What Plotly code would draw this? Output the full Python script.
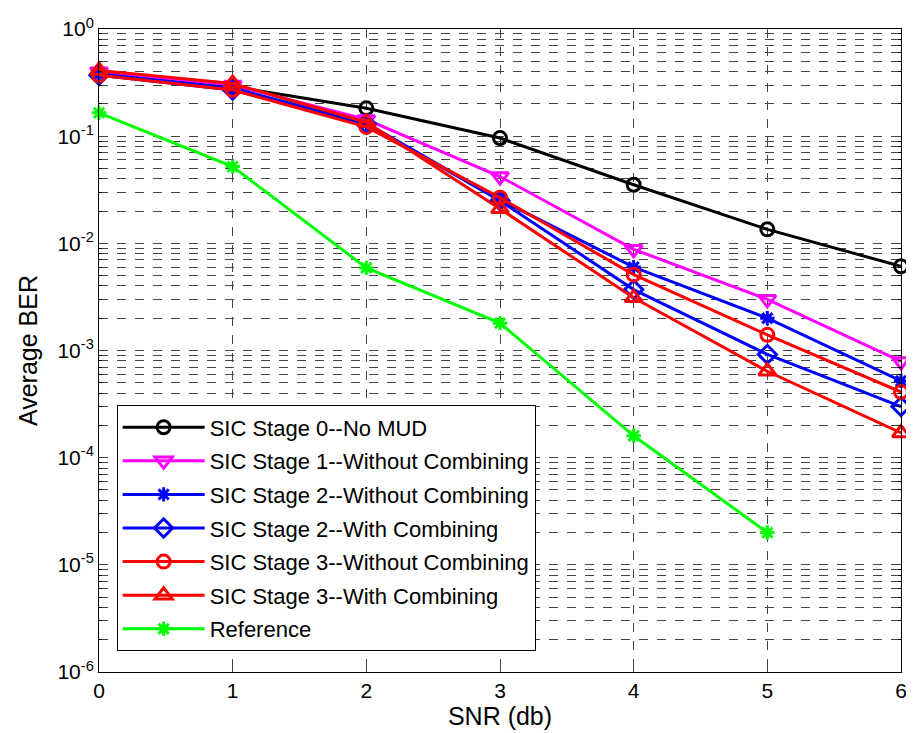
import plotly.graph_objects as go

snr = [0, 1, 2, 3, 4, 5, 6]
stage0 = [0.37, 0.29, 0.182, 0.096, 0.0352, 0.0135, 0.0061]
stage1 = [0.40, 0.30, 0.143, 0.042, 0.0088, 0.0030, 0.00079]
stage2_wo = [0.38, 0.28, 0.132, 0.0255, 0.006, 0.0020, 0.00052]
stage2_w = [0.37, 0.27, 0.130, 0.025, 0.0037, 0.00092, 0.00030]
stage3_wo = [0.37, 0.27, 0.122, 0.0267, 0.0051, 0.0014, 0.00041]
stage3_w = [0.41, 0.31, 0.135, 0.021, 0.0031, 0.00064, 0.00017]
ref_snr = [0, 1, 2, 3, 4, 5]
reference = [0.165, 0.052, 0.0059, 0.0018, 0.00016, 0.00002]

x_ticks = [0, 1, 2, 3, 4, 5, 6]
y_tick_vals = [1e-6, 1e-5, 1e-4, 1e-3, 1e-2, 1e-1, 1]
y_tick_text = ["10<sup>-6</sup>", "10<sup>-5</sup>", "10<sup>-4</sup>", "10<sup>-3</sup>",
               "10<sup>-2</sup>", "10<sup>-1</sup>", "10<sup>0</sup>"]
minor_vals = [m * 10.0 ** e for e in range(-6, 0) for m in range(2, 10)]

series = [
    ("SIC Stage 0--No MUD", snr, stage0, "black", "circle-open", 13),
    ("SIC Stage 1--Without Combining", snr, stage1, "#ff00ff", "triangle-down-open", 15),
    ("SIC Stage 2--Without Combining", snr, stage2_wo, "#0000ff", "asterisk-open", 12),
    ("SIC Stage 2--With Combining", snr, stage2_w, "#0000ff", "diamond-open", 14),
    ("SIC Stage 3--Without Combining", snr, stage3_wo, "#ff0000", "circle-open", 13),
    ("SIC Stage 3--With Combining", snr, stage3_w, "#ff0000", "triangle-up-open", 15),
    ("Reference", ref_snr, reference, "#00ff00", "asterisk-open", 12),
]

fig = go.Figure()
for i, (name, xs, ys, col, sym, sz) in enumerate(series):
    fig.add_trace(go.Scatter(
        x=xs, y=ys, name=name, mode="lines+markers",
        line=dict(color=col, width=3),
        marker=dict(symbol=sym, size=sz, color=col, line=dict(color=col, width=3)),
        cliponaxis=False, legendgroup=f"g{i}",
    ))

font = "Arial, Liberation Sans, Helvetica, sans-serif"
grid = dict(showgrid=True, gridcolor="#444444", griddash="dash", gridwidth=1)

# page body has an 8px margin, so the figure is sized to fit the 914x733 window
fig.update_layout(
    width=906, height=725,
    margin=dict(l=91, r=7, t=14, b=60),
    paper_bgcolor="white", plot_bgcolor="white",
    font=dict(family=font, size=21, color="black"),
    showlegend=True,
    legend=dict(
        x=0.022, y=0.032, xanchor="left", yanchor="bottom",
        bgcolor="white", bordercolor="black", borderwidth=1,
        font=dict(family=font, size=22, color="black"),
        itemwidth=82, tracegroupgap=2, traceorder="grouped",
    ),
    xaxis=dict(
        range=[0, 6], tickvals=x_ticks, ticks="inside", ticklen=6,
        showline=True, linecolor="black", linewidth=1, mirror="ticks",
        zeroline=False, title=dict(text="SNR (db)", standoff=6),
        tickfont=dict(size=21), ticklabeloverflow="allow", **grid,
    ),
    yaxis=dict(
        type="log", range=[-6, 0], tickvals=y_tick_vals, ticktext=y_tick_text,
        ticks="inside", ticklen=6,
        showline=True, linecolor="black", linewidth=1, mirror="ticks",
        zeroline=False, title=dict(text="Average BER", standoff=12),
        tickfont=dict(size=21), ticklabeloverflow="allow",
        minor=dict(tickvals=minor_vals, ticks="inside", ticklen=3, tickcolor="black",
                   showgrid=True, gridcolor="#444444", griddash="dash", gridwidth=1),
        **grid,
    ),
)

fig.write_html("out.html")
